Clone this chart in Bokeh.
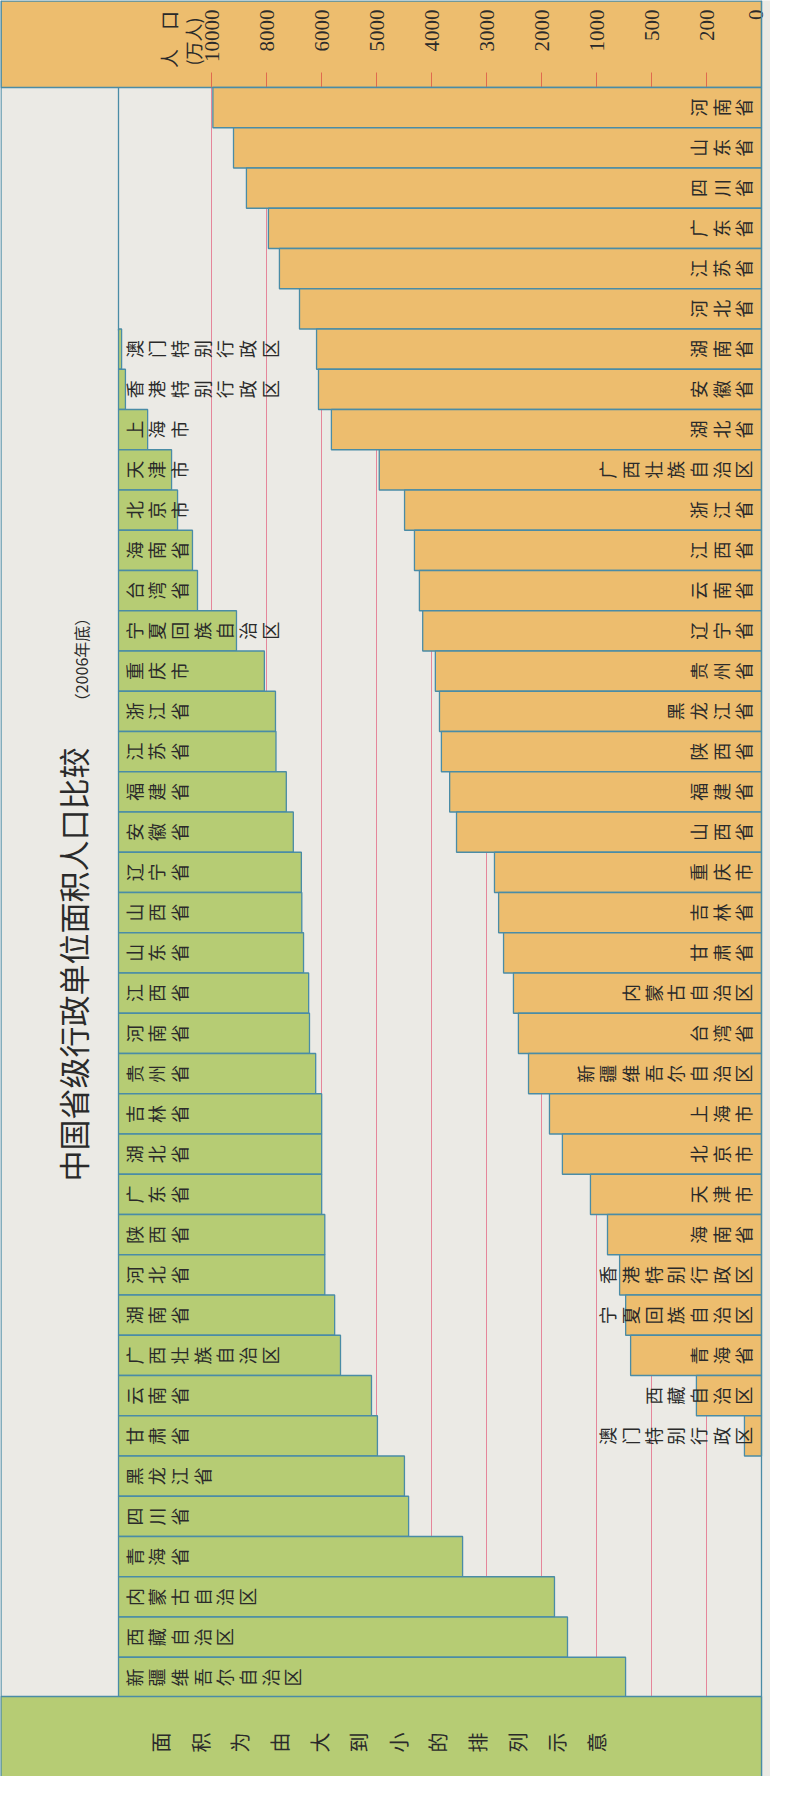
import numpy as np
from bokeh.plotting import figure
from bokeh.models import Range1d, ColumnDataSource
from bokeh.embed import file_html
from bokeh.resources import INLINE
from bokeh.core.properties import value

# ---------------- data ----------------
# population ranking (万人, 2006年底), top to bottom
pop_names = ["河南省", "山东省", "四川省", "广东省", "江苏省", "河北省", "湖南省", "安徽省",
             "湖北省", "广西壮族自治区", "浙江省", "江西省", "云南省", "辽宁省", "贵州省",
             "黑龙江省", "陕西省", "福建省", "山西省", "重庆市", "吉林省", "甘肃省",
             "内蒙古自治区", "台湾省", "新疆维吾尔自治区", "上海市", "北京市", "天津市",
             "海南省", "香港特别行政区", "宁夏回族自治区", "青海省", "西藏自治区", "澳门特别行政区"]
pop_values = [9950, 9200, 8730, 7930, 7530, 6800, 6180, 6110,
              5820, 4950, 4490, 4310, 4220, 4160, 3930,
              3855, 3820, 3670, 3545, 2855, 2780, 2690,
              2510, 2420, 2236, 1855, 1620, 1110,
              900, 790, 735, 690, 255, 62]

# area ranking (万平方千米, schematic), smallest at top
area_names = ["澳门特别行政区", "香港特别行政区", "上海市", "天津市", "北京市", "海南省", "台湾省",
              "宁夏回族自治区", "重庆市", "浙江省", "江苏省", "福建省", "安徽省", "辽宁省",
              "山西省", "山东省", "江西省", "河南省", "贵州省", "吉林省", "湖北省", "广东省",
              "陕西省", "河北省", "湖南省", "广西壮族自治区", "云南省", "甘肃省", "黑龙江省",
              "四川省", "青海省", "内蒙古自治区", "西藏自治区", "新疆维吾尔自治区"]
area_values = [0.006, 0.03, 0.53, 1.76, 2.18, 3.42, 3.9,
               8.7, 13.3, 15.4, 15.5, 17.6, 19.1, 20.9,
               21.0, 21.4, 22.6, 22.8, 24.3, 25.8, 25.8, 25.8,
               26.6, 26.6, 29.2, 30.8, 40.0, 41.9, 51.1,
               52.6, 74.0, 118.8, 126.0, 160.7]

tick_values = [0, 200, 500, 1000, 2000, 3000, 4000, 5000, 6000, 8000, 10000]
tick_labels = ["0", "200", "500", "1000", "2000", "3000", "4000", "5000", "6000", "8000", "10000"]

title_text = "中国省级行政单位面积人口比较"
subtitle_text = "（2006年底）"
axis_title_1 = "人　口"
axis_title_2 = "(万人)"
base_text = "面积为由大到小的排列示意"

# ---------------- layout helpers ----------------
PX_PER_TICK = 55.0
X_ZERO = 769.0
ROW_TOP = 95.0
ROW_H = 40.25
W, H = 770, 1776
CJK_LH = 1.465   # Noto Sans CJK ascent+descent in em

def X(px):
    return (X_ZERO - px) / PX_PER_TICK

def Y(py):
    return (py - ROW_TOP) / ROW_H

def pop_scale(v):
    return np.interp(v, tick_values, np.arange(len(tick_values)))

AREA_K = 40.0 / PX_PER_TICK   # sqrt scale for the schematic area bars
GREEN_LEFT = X(126)
GREEN_OFFSET = 6

ORANGE = "#EDBD6E"
GREEN = "#B6CC74"
BLUE = "#4A8CA6"
RED = "#E5869A"
PAPER = "#EBEAE5"
TEXT = "#2A2A2A"
CJK = value("Noto Sans CJK SC")
SERIF = value("Liberation Serif")

p = figure(width=W, height=H, output_backend="svg", toolbar_location=None,
           x_range=Range1d(X(8), X(8 + W)), y_range=Range1d(Y(8 + H), Y(8)),
           x_axis_location=None, y_axis_location=None, min_border=0)
p.grid.visible = False
p.outline_line_color = None
p.background_fill_color = PAPER
p.border_fill_color = PAPER

n_rows = len(pop_names)

# red grid lines
grid_k = [pop_scale(v) for v in tick_values[1:]]
p.segment(x0=grid_k, x1=grid_k, y0=[0] * len(grid_k), y1=[n_rows + GREEN_OFFSET] * len(grid_k),
          line_color=RED, line_width=1)

# header band
p.quad(left=[X(8.5)], right=[X(769)], top=[Y(8.5)], bottom=[Y(95)],
       fill_color=ORANGE, line_color=BLUE, line_width=1.3)
# tick marks
tick_k = [pop_scale(v) for v in tick_values]
p.segment(x0=tick_k[1:], x1=tick_k[1:], y0=[Y(80)] * (len(tick_k) - 1), y1=[Y(95)] * (len(tick_k) - 1),
          line_color="#E06A4E", line_width=1)
tsrc = ColumnDataSource(dict(x=tick_k, y=[Y(17)] * len(tick_k), t=tick_labels,
                             xo=[-6] + [0] * (len(tick_k) - 1)))
p.text(x="x", y="y", text="t", x_offset="xo", source=tsrc, angle=np.pi / 2,
       text_align="right", text_baseline="middle", text_font=SERIF,
       text_font_size="21px", text_color=TEXT)
p.text(x=[X(176)], y=[Y(47)], text=[axis_title_1], angle=np.pi / 2, text_align="center",
       text_baseline="middle", text_font=CJK, text_font_size="19px", text_color=TEXT)
p.text(x=[X(200)], y=[Y(49)], text=[axis_title_2], angle=np.pi / 2, text_align="center",
       text_baseline="middle", text_font=CJK, text_font_size="18px", text_color=TEXT)

# orange population bars
rows = np.arange(n_rows)
osrc = ColumnDataSource(dict(
    left=pop_scale(pop_values), right=np.zeros(n_rows),
    top=rows.astype(float), bottom=rows + 1.0,
    ly=rows + 0.5, lx=np.full(n_rows, X(764)),
    label=["\n".join(s) for s in pop_names]))
p.quad(left="left", right="right", top="top", bottom="bottom", source=osrc,
       fill_color=ORANGE, line_color=BLUE, line_width=1.3)
p.text(x="lx", y="ly", text="label", source=osrc, angle=np.pi / 2,
       text_align="center", text_baseline="bottom", text_font=CJK,
       text_font_size="18px", text_line_height=23.0 / (18 * CJK_LH), text_color=TEXT)

# green area bars
grows = np.arange(len(area_names)) + GREEN_OFFSET
gsrc = ColumnDataSource(dict(
    left=np.full(len(area_names), GREEN_LEFT),
    right=GREEN_LEFT - AREA_K * np.sqrt(area_values),
    top=grows.astype(float), bottom=grows + 1.0,
    ly=grows + 0.5, lx=np.full(len(area_names), X(128)),
    label=["\n".join(s) for s in area_names]))
p.quad(left="left", right="right", top="top", bottom="bottom", source=gsrc,
       fill_color=GREEN, line_color=BLUE, line_width=1.3)
p.text(x="lx", y="ly", text="label", source=gsrc, angle=np.pi / 2,
       text_align="center", text_baseline="top", text_font=CJK,
       text_font_size="18px", text_line_height=23.0 / (18 * CJK_LH), text_color=TEXT)

# frame lines
p.segment(x0=[X(126)], x1=[X(126)], y0=[Y(95)], y1=[Y(338)], line_color=BLUE, line_width=1.3)
p.segment(x0=[X(8.5), X(769)], x1=[X(8.5), X(769)], y0=[Y(8)] * 2, y1=[Y(1790)] * 2,
          line_color=BLUE, line_width=1.3)

# base box
p.quad(left=[X(8.5)], right=[X(769)], top=[Y(1704)], bottom=[Y(1800)],
       fill_color=GREEN, line_color=BLUE, line_width=1.3)
p.text(x=[X(386)], y=[Y(1750)], text=["\n".join(base_text)], angle=np.pi / 2,
       text_align="center", text_baseline="middle", text_font=CJK,
       text_font_size="20px", text_line_height=40.0 / (20 * CJK_LH), text_color=TEXT)

# titles
p.text(x=[X(80)], y=[Y(972)], text=[title_text], angle=np.pi / 2, text_align="center",
       text_baseline="middle", text_font=CJK, text_font_size="31px", text_color=TEXT)
p.text(x=[X(88)], y=[Y(667)], text=[subtitle_text], angle=np.pi / 2, text_align="center",
       text_baseline="middle", text_font=CJK, text_font_size="16px", text_color=TEXT)

open("out.html", "w").write(file_html(p, INLINE))
